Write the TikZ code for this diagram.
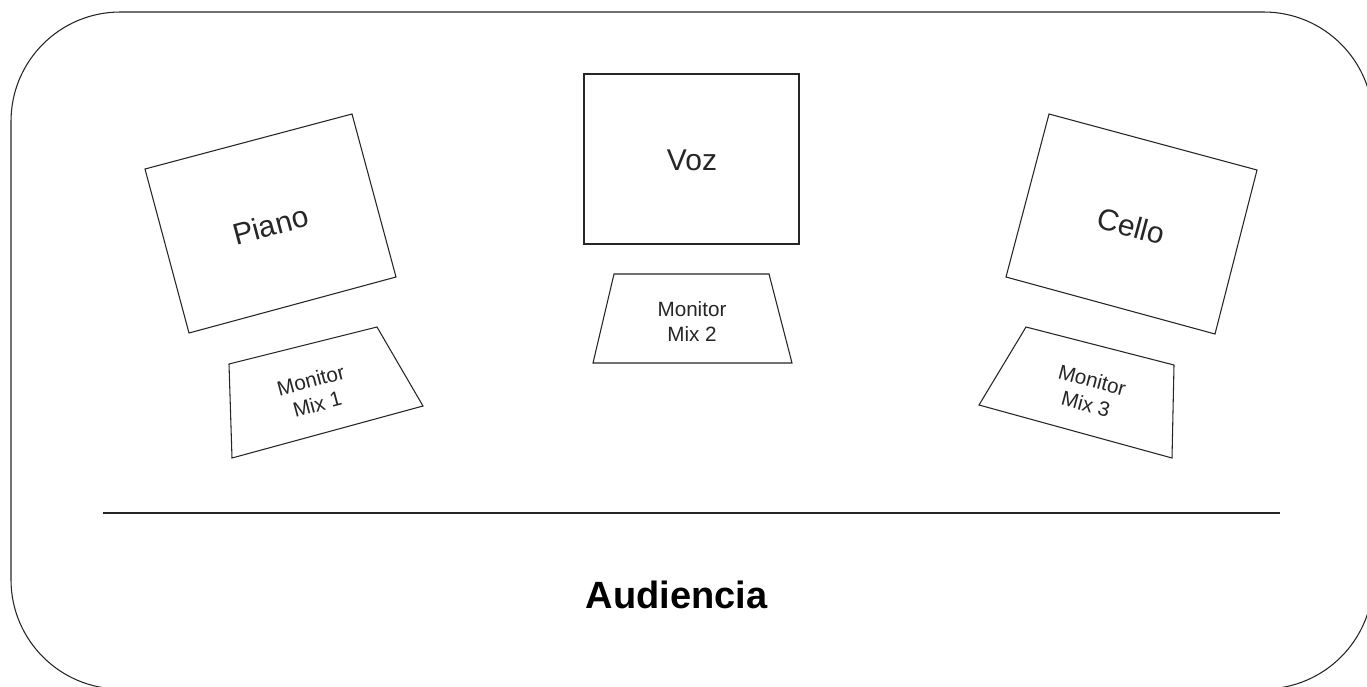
\documentclass[tikz,border=0pt]{standalone}
\usepackage{fontspec}
\setmainfont{Liberation Sans}
\begin{document}
\begin{tikzpicture}[x=0.75pt,y=-0.75pt,
  outl/.style={draw=black!85,line width=0.8pt,line join=miter},
  bigtxt/.style={font=\fontsize{22.5}{27}\selectfont,text=black!85},
  smalltxt/.style={font=\fontsize{15.5}{18.75}\selectfont,text=black!85,align=center}]
\useasboundingbox (0,0) rectangle (1367,686);
\clip (0,0) rectangle (1367,686);
\fill[white] (0,0) rectangle (1367,686);
% stage outline
\draw[outl,rounded corners=82pt] (11,12) rectangle (1373,689);
% Piano
\draw[outl] (145,169) -- (352,114) -- (396,277) -- (189,333) -- cycle;
\node[bigtxt,rotate=15] (piano) at (270.5,225) {Piano};
% Monitor Mix 1
\draw[outl] (229,364) -- (377,327) -- (423,406) -- (232,458) -- cycle;
\node[smalltxt,rotate=15] (mix1) at (314,392) {Monitor\\Mix 1};
% Voz
\draw[outl] (584,74) rectangle (799,244);
\node[bigtxt,anchor=base] (voz) at (692,170) {Voz};
% Monitor Mix 2
\draw[outl] (614,274) -- (769,274) -- (792,363) -- (593,363) -- cycle;
\node[smalltxt] (mix2) at (692,322) {Monitor\\Mix 2};
% Cello
\draw[outl] (1049,114) -- (1257,170) -- (1215,334) -- (1006,277) -- cycle;
\node[bigtxt,rotate=-15] (cello) at (1131,226) {Cello};
% Monitor Mix 3
\draw[outl] (1026,327) -- (1174,365) -- (1172,458) -- (979,405) -- cycle;
\node[smalltxt,rotate=-15] (mix3) at (1089,392) {Monitor\\Mix 3};
% audience line
\coordinate (la) at (103,513);
\coordinate (lb) at (1280,513);
\draw[outl] (la) -- (lb);
\node[font=\fontsize{28.5}{34}\selectfont\bfseries,anchor=base] (aud) at (676.5,608) {Audiencia};
\end{tikzpicture}
\end{document}
